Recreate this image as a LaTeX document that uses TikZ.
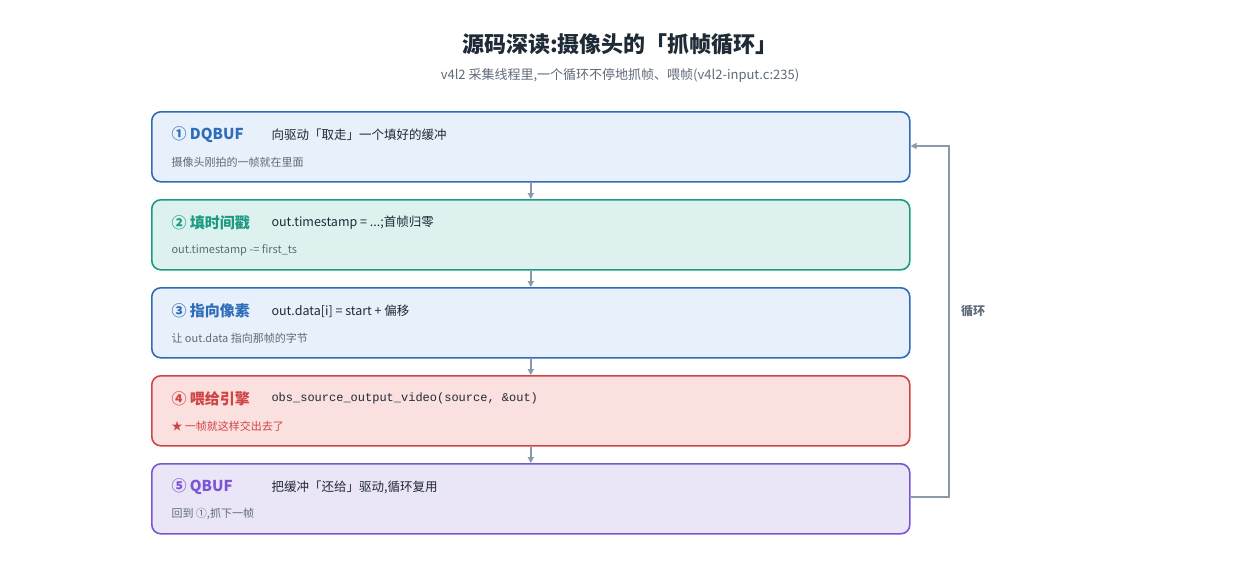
\documentclass[tikz,border=0pt]{standalone}
\usepackage{fontspec}
\setmainfont{Noto Sans CJK SC}
\newfontfamily\cjkb[BoldFont={Noto Sans CJK SC Bold}]{Noto Sans CJK SC}
\newfontfamily\codef{Liberation Mono}
\usetikzlibrary{arrows.meta}
\definecolor{bbl}{HTML}{2F6DBA}\definecolor{fbl}{HTML}{E7F0FB}
\definecolor{bgr}{HTML}{1E9A82}\definecolor{fgr}{HTML}{DDF2EE}
\definecolor{brd}{HTML}{D04444}\definecolor{frd}{HTML}{FBE0E0}
\definecolor{bpu}{HTML}{7A55D6}\definecolor{fpu}{HTML}{EBE5F8}
\definecolor{ar}{HTML}{8C99A8}\definecolor{sub}{HTML}{5F6B78}\definecolor{ttl}{HTML}{1F2A37}
\begin{document}
\begin{tikzpicture}[x=1pt,y=-1pt,
 box/.style={draw=#1,line width=1.6pt,rounded corners=9pt,minimum width=758pt,minimum height=70pt,anchor=north west,inner sep=0pt},
 hd/.style={anchor=west,font=\fontsize{15}{15}\selectfont\bfseries,text=#1},
 ds/.style={anchor=west,font=\fontsize{12.5}{13}\selectfont,text=ttl},
 nt/.style={anchor=west,font=\fontsize{11}{12}\selectfont,text=#1},
 arr/.style={draw=ar,line width=1.5pt,-{Triangle[length=6pt,width=6pt]}}]
\useasboundingbox (0,0) rectangle (1240,560);
\fill[white] (0,0) rectangle (1240,560);
\node[font=\fontsize{22}{22}\selectfont\bfseries,text=ttl] (title) at (620,44) {源码深读:摄像头的「抓帧循环」};
\node[font=\fontsize{13}{13}\selectfont,text=sub] (subt) at (620,75) {v4l2 采集线程里,一个循环不停地抓帧、喂帧(v4l2-input.c:235)};
\node[box=bbl,fill=fbl] (b1) at (151,111) {};
\node[box=bgr,fill=fgr] (b2) at (151,199) {};
\node[box=bbl,fill=fbl] (b3) at (151,287) {};
\node[box=brd,fill=frd] (b4) at (151,375) {};
\node[box=bpu,fill=fpu] (b5) at (151,463) {};
\node[hd=bbl] (h1) at (168,135) {① DQBUF};
\node[ds] (d1) at (268,135) {向驱动「取走」一个填好的缓冲};
\node[nt=sub] (n1) at (168,162) {摄像头刚拍的一帧就在里面};
\node[hd=bgr] (h2) at (168,223) {② 填时间戳};
\node[ds] (d2) at (268,223) {out.timestamp = ...;首帧归零};
\node[nt=sub] (n2) at (168,250) {out.timestamp -= first\_ts};
\node[hd=bbl] (h3) at (168,311) {③ 指向像素};
\node[ds] (d3) at (268,311) {out.data[i] = start + 偏移};
\node[nt=sub] (n3) at (168,338) {让 out.data 指向那帧的字节};
\node[hd=brd] (h4) at (168,399) {④ 喂给引擎};
\node[ds,font=\codef\fontsize{12}{13}\selectfont] (d4) at (268,398) {obs\_source\_output\_video(source, \&out)};
\node[nt=brd] (n4) at (168,426) {★ 一帧就这样交出去了};
\node[hd=bpu] (h5) at (168,487) {⑤ QBUF};
\node[ds] (d5) at (268,487) {把缓冲「还给」驱动,循环复用};
\node[nt=sub] (n5) at (168,514) {回到 ①,抓下一帧};
\draw[arr] (b1.south) -- (b2.north);
\draw[arr] (b2.south) -- (b3.north);
\draw[arr] (b3.south) -- (b4.north);
\draw[arr] (b4.south) -- (b5.north);
\coordinate (c1) at (949,497);
\coordinate (c2) at (949,146);
\draw[arr] (b5.east|-c1) -- (c1) -- (c2) -- (b1.east|-c2);
\node[font=\fontsize{12}{12}\selectfont\bfseries,text=sub] (lp) at (973,311) {循环};
\end{tikzpicture}
\end{document}
